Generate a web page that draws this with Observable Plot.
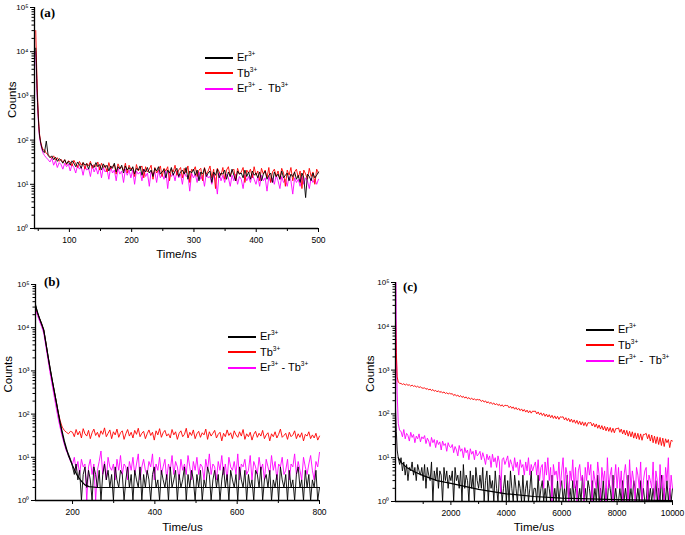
<!DOCTYPE html>
<html><head><meta charset="utf-8">
<script src="https://cdn.jsdelivr.net/npm/d3@7"></script>
<script src="https://cdn.jsdelivr.net/npm/@observablehq/plot@0.6"></script>
<style>
body{margin:0;background:#fff;}
#wrap{position:relative;width:685px;height:535px;background:#fff;font-family:"Liberation Sans",Arial,sans-serif;}
.pn{position:absolute;}
.lab{position:absolute;font-family:"Liberation Serif","Times New Roman",serif;font-weight:bold;font-size:13px;}
.leg{position:absolute;font-size:11px;line-height:15px;}
.leg div{position:relative;height:15.5px;white-space:nowrap;}
.leg span.sw{display:inline-block;width:28px;height:2px;vertical-align:middle;margin-right:4px;}
.leg sup{font-size:6.5px;}
</style></head>
<body><div id="wrap"></div>
<script>
// ---------- shared axis ticks ----------
const yTicks = [1, 10, 100, 1000, 10000, 100000];
const yTickLabels = ["10⁰", "10¹", "10²", "10³", "10⁴", "10⁵"];
const yMinor = [2,3,4,5,6,7,8,9,20,30,40,50,60,70,80,90,200,300,400,500,600,700,800,900,2000,3000,4000,5000,6000,7000,8000,9000,20000,30000,40000,50000,60000,70000,80000,90000];

// ---------- panel (a) : Time/ns ----------
const aXTicks = [100, 200, 300, 400, 500];
const aXMinor = [50, 150, 250, 350, 450];
const aHeadT = [46, 47, 48, 49, 50, 51, 52, 54, 56, 58];
const aHeadEr = [12000, 5000, 1500, 700, 350, 200, 130, 85, 65, 55];
const aHeadTb = [30000, 8000, 2500, 900, 400, 220, 140, 90, 70, 60];
const aHeadErTb = [10000, 4000, 1200, 600, 300, 180, 120, 80, 60, 50];
const aTailStart = 60, aTailEnd = 500;
const aTailEr = [52,95,45,40,44,36,41,33,38,35,30,36,29,33,
  27,34,30,25,32,28,23,31,27,29,22,30,26,24,31,25,28,
  21,29,24,27,20,26,23,30,19,25,22,27,18,26,21,24,20,
  25,17,23,21,26,16,22,19,24,18,21,15,23,20,25,17,19,22,14,21,18,24,16,20,23,15,19,21,17,24,13,20,18,22,
  16,21,12,19,17,23,15,18,20,11,19,16,22,14,18,17,21,13,19,15,22,16,12,20,17,18,14,21,15,19,13,20,16,18,
  14,19,12,17,20,13,16,18,11,19,15,17,13,20,14,16,18,12,17,15,19,13,16,11,18,14,5,17,15,12,18,14,16,19];
const aTailTb = [60,50,47,42,39,44,35,40,33,37,31,36,28,34,
  32,26,35,29,24,33,27,31,22,30,26,33,23,28,25,32,21,
  30,24,27,19,31,22,26,28,17,29,23,25,20,30,18,27,22,
  24,15,28,20,23,26,14,25,19,22,27,13,24,18,21,26,15,23,20,25,12,22,19,27,16,21,24,14,23,18,26,11,22,20,
  25,15,21,23,12,24,17,20,26,14,22,8,23,19,16,24,13,21,25,15,20,22,12,23,17,19,24,11,21,18,22,14,25,16,
  20,12,23,17,21,14,24,11,19,22,15,20,13,23,18,9,21,16,24,12,19,22,14,20,8,21,17,13,23,15,19,10,22,18];
const aTailErTb = [45,40,36,32,39,27,34,24,31,28,22,30,25,29,
  20,28,24,18,27,22,25,16,26,21,23,15,27,19,24,17,25,
  14,24,19,22,13,25,18,21,12,23,17,20,11,22,16,21,14,
  21,10,20,17,19,12,22,15,18,9,20,16,19,11,21,14,17,13,20,8,19,15,18,12,20,14,17,10,19,15,16,7,18,14,
  17,11,19,13,16,9,18,14,15,10,17,13,6,18,12,16,11,17,14,9,16,12,17,10,15,13,8,16,12,15,11,17,13,10,
  15,9,16,12,14,7,15,11,14,10,16,12,8,15,11,13,9,15,12,6,14,11,13,9,15,10,14,12,8,14,11,13,10,13];

// ---------- panel (b) : Time/us ----------
const bXTicks = [200, 400, 600, 800];
const bXMinor = [300, 500, 700];
const bHeadT = [110,115,120,125,130,135,140,145,150,155,160,165,170,175,180,185,190,195];
const bHeadEr = [35000,22000,16500,12500,9000,4700,2350,1200,660,370,205,110,60,35,22,15,12,9];
const bHeadTb = [28000,21000,16000,12000,8700,4500,2250,1150,630,355,200,112,70,50,42,38,35,40];
const bHeadErTb = [26000,19000,14000,10500,7500,3800,1900,950,500,270,145,80,48,30,20,14,11,8];
const bTailStart = 200, bTailEnd = 800;
const bTailTb = [38,30,44,33,40,28,46,35,31,42,27,37,45,32,38,29,41,34,48,30,
  36,43,27,39,33,45,29,37,41,26,35,44,31,38,28,42,34,47,30,36,
  40,27,35,43,32,38,25,41,33,46,29,37,42,31,35,28,44,33,39,26,
  36,41,30,34,47,28,38,32,43,27,35,40,29,37,33,45,26,39,31,36,
  42,28,34,38,24,36,30,43,32,37,27,41,33,29,39,31,44,26,35,30,
  38,25,34,40,29,36,31,42,27,33,37,24,35,30,39,28,34,45,29,32,
  36,26,38,30,33,41,27,35,29,37,24,34,31,39,27,33,28,36,25,31];
const bTailErTb = [7,10,5,8,4,9,6,7,1,6,9,4,7,1,5,8,14,4,8,3,
  10,6,5,7,3,9,5,11,4,7,6,3,8,5,10,4,7,12,3,6,
  9,5,4,8,6,12,3,7,5,10,4,6,9,3,7,5,11,4,8,6,
  3,9,5,7,4,11,6,3,8,5,10,4,7,6,3,9,5,12,4,7,
  6,3,8,5,11,4,7,3,10,6,5,8,4,12,3,7,6,9,4,5,
  11,3,8,6,4,10,5,7,3,9,6,4,11,5,8,3,7,6,10,4,
  5,9,3,7,6,12,4,8,5,3,10,6,4,7,11,5,3,8,6,13];
const bTailEr = [6,4,7,3,5,1,4,6,2,5,3,1,6,4,2,5,1,4,7,3,
  5,2,4,1,6,3,2,5,4,1,3,6,2,4,1,5,3,2,6,1,
  4,2,5,3,1,4,6,2,3,1,5,3,2,4,1,6,2,3,5,1,
  4,2,3,6,1,4,2,5,3,1,4,2,5,1,3,2,6,4,1,3,
  5,2,4,1,3,6,2,4,1,5,3,2,4,1,6,3,2,5,1,4,
  2,3,1,5,4,2,6,1,3,4,2,5,1,3,2,4,1,6,3,2,
  4,1,5,2,3,1,4,6,2,3,1,5,2,4,1,3,2,5,1,2];
const bFitT = [110,120,130,140,150,160,170,180,190,200,210,220,230,240,260,300,400,500,600,700,800];
const bFitEr = [32000,16000,8800,2300,650,200,62,24,11,6.5,4,2.9,2.3,2.1,2,2,2,2,2,2,2];

// ---------- panel (c) : Time/us ----------
const cXTicks = [2000, 4000, 6000, 8000, 10000];
const cXMinor = [1000, 3000, 5000, 7000, 9000];
const cHeadT = [0, 10, 30, 60, 100, 150];
const cHeadEr = [130, 90, 40, 15, 10, 7];
const cHeadTb = [16000, 9000, 2500, 700, 530, 500];
const cHeadErTb = [1, 100000, 3000, 300, 60, 42];
const cTailStart = 200, cTailEnd = 10000;
const cTailTb = [495,470,488,455,478,450,462,430,455,425,440,410,428,400,415,392,385,
  395,365,380,352,370,340,360,330,345,318,338,310,325,300,318,292,305,285,298,284,
  290,262,280,255,270,245,262,238,252,230,245,222,236,215,230,210,222,205,215,209,
  212,192,205,186,198,178,190,172,184,166,178,160,172,156,166,150,162,146,158,155,
  156,138,150,134,145,128,140,124,134,119,130,115,126,110,122,106,118,104,116,114,
  116,100,111,96,106,92,103,88,99,85,96,82,93,79,90,77,88,75,86,84,
  86,73,82,70,79,66,76,64,73,61,71,58,68,56,66,54,64,52,63,62,
  64,53,61,50,59,47,56,45,54,43,52,41,50,40,49,38,47,37,46,46,
  48,38,45,35,43,33,42,31,40,30,39,28,37,27,36,26,35,25,34,34,
  36,27,34,24,33,22,31,21,30,20,29,19,28,18,27,22,26,17,25,24];
const cTailErTb = [40,30,44,27,36,32,24,38,29,34,22,31,27,35,23,30,27,
  32,21,28,24,18,29,22,26,17,25,20,23,15,24,19,21,14,22,18,17,
  20,13,18,15,11,19,14,16,10,17,13,15,9,16,12,14,9,15,11,12,
  14,9,13,10,7,12,9,11,6,12,8,10,6,11,8,1.5,9,10,7,8.7,
  11,6,9,7,5,10,6,8,4,9,6,7,4,8,5,10,4,7,5,6.5,
  8,4,9,3,6,7,2,8,4,10,3,6,1,7,4,5,3,8,2,5,
  10,2,6,4,1,5,3,9,2,6,1,5,7,3,4,1,6,3,8,4,
  7,1,5,3,2,8,4,1,6,3,5,1,10,2,4,6,1,3,7,2,
  6,2,5,1,4,7,3,1,9,2,5,3,1,6,4,2,8,1,3,5,
  6,1,4,3,2,8,1,5,3,1,7,2,4,1,6,3,10,1,4,2];
const cTailEr = [10,5,8,4,7,3,6,5,8,4,6,3,7,5,4,6,3,
  7,2,6,4,3,8,1,5,3,6,2,5,4,1,6,3,5,2,4,3,
  5,1,6,3,4,2,5,1,7,2,4,3,1,5,2,4,1,6,3,2,
  4,2,6,1,3,5,1,4,2,3,1,5,2,1,4,3,1,2,4,1,
  3,1,5,2,1,4,2,1,3,2,1,4,1,2,3,1,2,5,1,2,
  2,1,4,1,2,3,1,2,1,3,2,1,4,1,2,1,3,1,2,3,
  1,2,1,4,1,2,1,3,1,2,3,1,2,1,4,1,2,1,3,2,
  1,3,1,2,1,4,1,2,1,3,1,2,1,3,2,1,4,1,2,1,
  1,2,1,3,1,2,1,4,1,2,1,3,2,1,2,1,3,1,2,1,
  1,3,1,2,1,2,1,3,1,2,1,4,1,2,1,3,1,2,1,2];
const cFitT = [100,200,400,700,1000,1500,2000,3000,4000,5000,6000,8000,10000];
const cFitEr = [10,7.8,6,4.7,3.9,3,2.6,1.9,1.5,1.3,1.2,1.1,1.05];

// ---------- colours ----------
const cEr = "#000000", cTb = "#ff0000", cErTb = "#ff00ff";

// build {t,v} rows: measured head points, then the evenly sampled tail
function rows(headT, headV, t0, t1, tailV) {
  const out = headT.map((t, i) => ({t, v: headV[i]}));
  const n = tailV.length, step = (t1 - t0) / (n - 1);
  tailV.forEach((v, i) => out.push({t: t0 + i * step, v}));
  return out;
}
function pairs(T, V) { return T.map((t, i) => ({t, v: V[i]})); }

function panel(o) {
  const lines = o.series.map(s => Plot.line(s.data, {x: "t", y: "v", stroke: s.color, strokeWidth: s.w || 0.9}));
  return Plot.plot({
    width: o.width, height: o.height,
    marginLeft: o.ml, marginRight: o.mr, marginTop: o.mt, marginBottom: o.mb,
    x: {type: "linear", domain: o.xDomain, label: null},
    y: {type: "log", domain: [1, 100000], label: null},
    style: {fontFamily: "Liberation Sans, Arial, sans-serif", fontSize: "8px", background: "white", overflow: "visible"},
    marks: [
      ...lines,
      Plot.ruleX([o.xDomain[0]], {stroke: "#000", strokeWidth: 1.3}),
      Plot.ruleY([1], {stroke: "#000", strokeWidth: 1.3}),
      Plot.axisY({ticks: yTicks, tickFormat: d => yTickLabels[yTicks.indexOf(d)], tickSize: 4, tickPadding: 2, fontSize: 8, label: null}),
      Plot.axisY({ticks: yMinor, tickFormat: () => "", tickSize: 2.5, label: null}),
      Plot.axisX({ticks: o.xTicks, tickFormat: d => String(d), tickSize: 4, tickPadding: 4, fontSize: 8.5, label: null}),
      Plot.axisX({ticks: o.xMinor, tickFormat: () => "", tickSize: 3, label: null}),
      Plot.text(["Counts"], {frameAnchor: "left", dx: o.cdx, rotate: -90, fontSize: 11.5}),
      Plot.text([o.xLabel], {frameAnchor: "bottom", dy: o.tdy, dx: o.tdx || 0, fontSize: 11.5})
    ]
  });
}

const wrap = document.getElementById("wrap");
function place(el, left, top) { el.classList.add("pn"); el.style.left = left + "px"; el.style.top = top + "px"; wrap.appendChild(el); }

place(panel({width: 330, height: 265, ml: 34, mr: 12, mt: 7, mb: 37, xDomain: [44, 500],
  xTicks: aXTicks, xMinor: aXMinor, xLabel: "Time/ns", cdx: -22, tdy: 29,
  series: [
    {data: rows(aHeadT, aHeadErTb, aTailStart, aTailEnd, aTailErTb), color: cErTb},
    {data: rows(aHeadT, aHeadTb, aTailStart, aTailEnd, aTailTb), color: cTb},
    {data: rows(aHeadT, aHeadEr, aTailStart, aTailEnd, aTailEr), color: cEr}
  ]}), 0, 0);

place(panel({width: 330, height: 265, ml: 35, mr: 11, mt: 14, mb: 35, xDomain: [110, 800],
  xTicks: bXTicks, xMinor: bXMinor, xLabel: "Time/us", cdx: -27, tdy: 30, tdx: 5,
  series: [
    {data: rows(bHeadT, bHeadTb, bTailStart, bTailEnd, bTailTb), color: cTb},
    {data: rows(bHeadT, bHeadErTb, bTailStart, bTailEnd, bTailErTb), color: cErTb},
    {data: rows(bHeadT, bHeadEr, bTailStart, bTailEnd, bTailEr), color: cEr},
    {data: pairs(bFitT, bFitEr), color: cEr, w: 1.2}
  ]}), 0, 270);

place(panel({width: 345, height: 265, ml: 55, mr: 13, mt: 12, mb: 34, xDomain: [0, 10000],
  xTicks: cXTicks, xMinor: cXMinor, xLabel: "Time/us", cdx: -25, tdy: 29,
  series: [
    {data: rows(cHeadT, cHeadEr, cTailStart, cTailEnd, cTailEr), color: cEr},
    {data: rows(cHeadT, cHeadErTb, cTailStart, cTailEnd, cTailErTb), color: cErTb},
    {data: rows(cHeadT, cHeadTb, cTailStart, cTailEnd, cTailTb), color: cTb},
    {data: pairs(cFitT, cFitEr), color: cEr, w: 1.2}
  ]}), 340, 270);

// panel letters
[["(a)", 40, 5], ["(b)", 44, 274], ["(c)", 403, 279]].forEach(([t, x, y]) => {
  const d = document.createElement("div"); d.className = "lab"; d.textContent = t;
  d.style.left = x + "px"; d.style.top = y + "px"; wrap.appendChild(d);
});

// legends
const legItems = [
  {color: cEr, html: "Er<sup>3+</sup>"},
  {color: cTb, html: "Tb<sup>3+</sup>"},
  {color: cErTb, html: "Er<sup>3+</sup> -&nbsp; Tb<sup>3+</sup>"}
];
[[205, 46], [228, 325], [586, 318]].forEach(([x, y], k) => {
  const L = document.createElement("div"); L.className = "leg";
  L.style.left = x + "px"; L.style.top = y + "px";
  if (k === 1) L.style.lineHeight = "16px";
  legItems.forEach(it => {
    const r = document.createElement("div");
    r.innerHTML = `<span class="sw" style="background:${it.color}"></span>` + (k === 1 ? it.html.replace("-&nbsp; ", "- ") : it.html);
    L.appendChild(r);
  });
  wrap.appendChild(L);
});
</script></body></html>
